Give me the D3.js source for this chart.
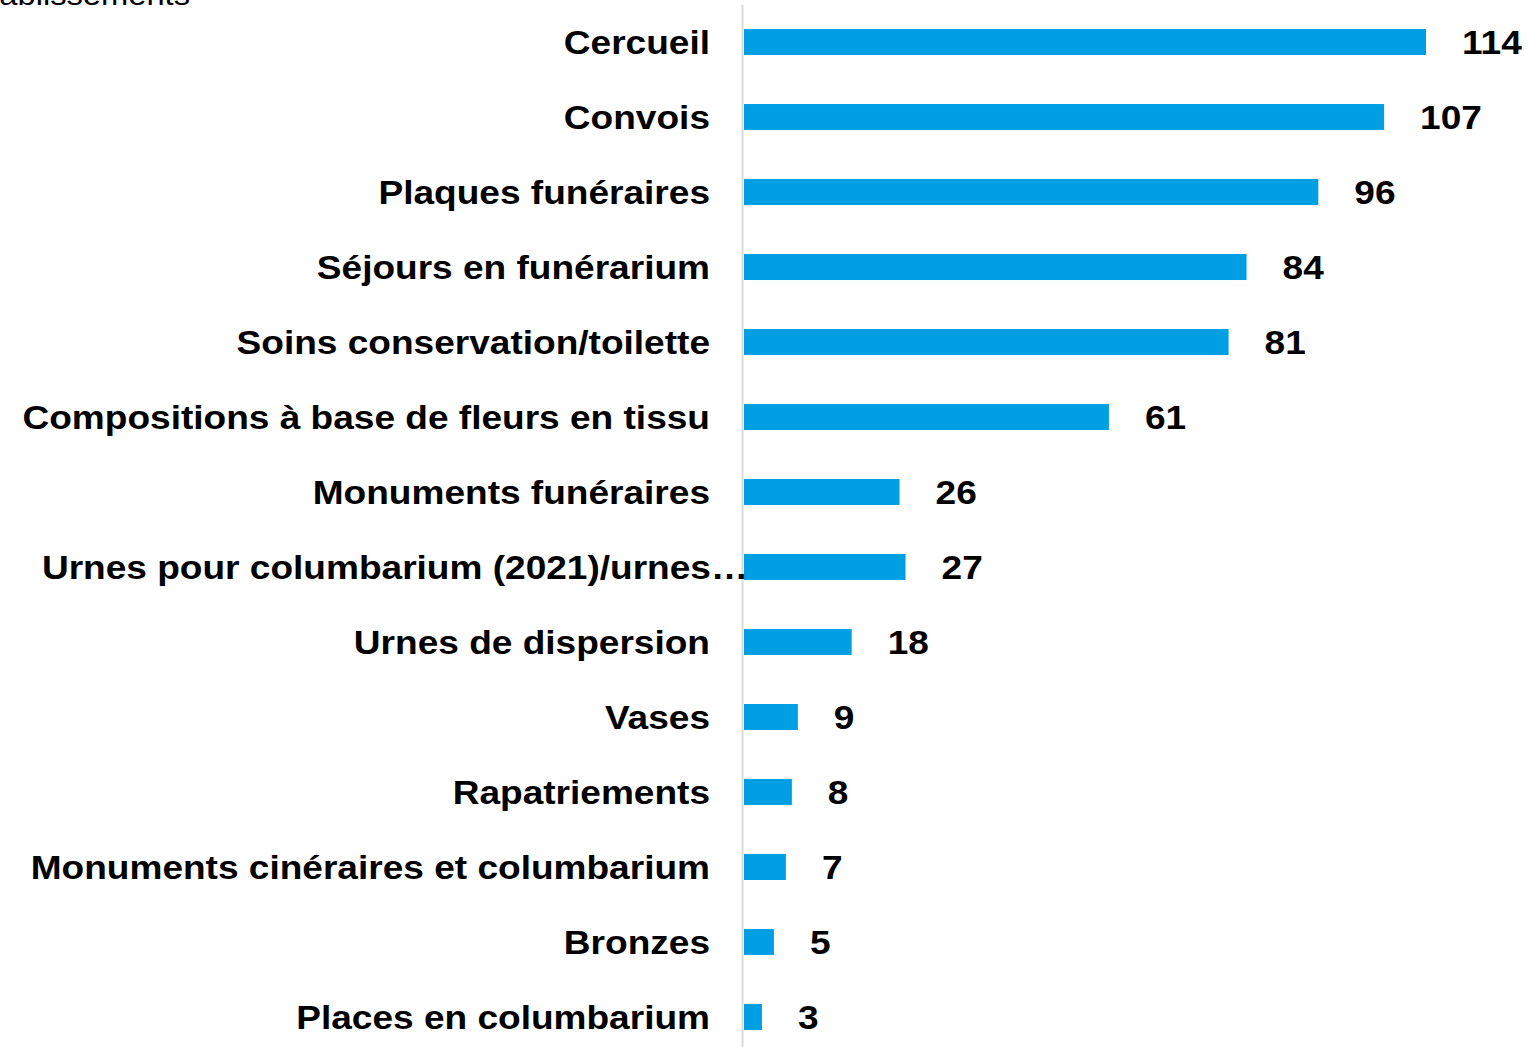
<!DOCTYPE html>
<html>
<head>
<meta charset="utf-8">
<script src="https://cdn.jsdelivr.net/npm/d3@7"></script>
<style>
  body { margin: 0; background: #fff; }
  text { font-family: Arial, "Liberation Sans", sans-serif; }
</style>
</head>
<body>
<div class="canvas"></div>
<script>
// categories, top to bottom
var categories = [
    'Cercueil',
    'Convois',
    'Plaques funéraires',
    'Séjours en funérarium',
    'Soins conservation/toilette',
    'Compositions à base de fleurs en tissu',
    'Monuments funéraires',
    'Urnes pour columbarium (2021)/urnes…',
    'Urnes de dispersion',
    'Vases',
    'Rapatriements',
    'Monuments cinéraires et columbarium',
    'Bronzes',
    'Places en columbarium'
];
var values = [114, 107, 96, 84, 81, 61, 26, 27, 18, 9, 8, 7, 5, 3];
var axisTitle = "Nombre d'établissements";

var width = 1529,
    height = 1047,
    margin = { top: 4.5, right: 0, bottom: -7.5, left: 744 },
    stretch = 1.09;

var svg = d3.select('.canvas').append('svg')
    .attr('width', width)
    .attr('height', height);

var x = d3.scaleLinear()
    .domain([0, 114])
    .range([margin.left, 1426]);

var y = d3.scaleBand()
    .domain(categories)
    .range([margin.top, height - margin.bottom])
    .paddingInner(0.653)
    .paddingOuter(0.327);

// cut off title at the top
svg.append('text')
    .attr('transform', 'translate(190,5) scale(' + stretch + ',1)')
    .attr('text-anchor', 'end')
    .style('font-size', '30px')
    .attr('fill', '#000')
    .text(axisTitle);

// vertical axis line
svg.append('line')
    .attr('x1', 742.5).attr('x2', 742.5)
    .attr('y1', 5).attr('y2', height)
    .attr('stroke', '#d9d9d9')
    .attr('stroke-width', 2);

svg.selectAll('rect.bar')
    .data(categories)
    .enter()
    .append('rect')
    .attr('class', 'bar')
    .attr('x', x(0))
    .attr('y', function (d) { return y(d); })
    .attr('width', function (d, i) { return x(values[i]) - x(0); })
    .attr('height', y.bandwidth())
    .attr('fill', '#009fe3');

// category labels
svg.selectAll('text.cat')
    .data(categories)
    .enter()
    .append('text')
    .attr('class', 'cat')
    .attr('transform', function (d) {
        var tx = d.slice(-1) === '…' ? 748 : 710;
        return 'translate(' + tx + ',' + (y(d) + y.bandwidth() / 2) + ') scale(' + stretch + ',1)';
    })
    .attr('dy', '0.36em')
    .attr('text-anchor', 'end')
    .style('font-size', '34px')
    .style('font-weight', 'bold')
    .text(function (d) { return d; });

// value labels
svg.selectAll('text.val')
    .data(categories)
    .enter()
    .append('text')
    .attr('class', 'val')
    .attr('transform', function (d, i) {
        return 'translate(' + (x(values[i]) + 36) + ',' + (y(d) + y.bandwidth() / 2) + ') scale(' + stretch + ',1)';
    })
    .attr('dy', '0.36em')
    .style('font-size', '34px')
    .style('font-weight', 'bold')
    .text(function (d, i) { return values[i]; });
</script>
</body>
</html>
